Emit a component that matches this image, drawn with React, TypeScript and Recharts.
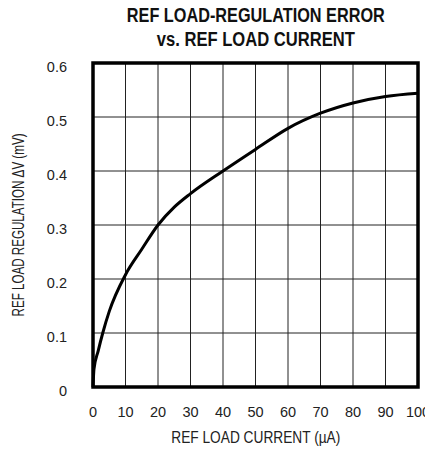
import React from 'react';
import { LineChart, Line, XAxis, YAxis, CartesianGrid, ReferenceArea } from 'recharts';

const currentUA = [0, 0.3, 1.6, 3, 5, 10, 15, 20, 25, 30, 40, 50, 60, 70, 80, 90, 100];
const regulationMV = [0, 0.033, 0.067, 0.1, 0.14, 0.208, 0.255, 0.3, 0.333, 0.358, 0.4, 0.44, 0.479, 0.507, 0.526, 0.538, 0.544];
const xTicks = [0, 10, 20, 30, 40, 50, 60, 70, 80, 90, 100];
const yTicks = [0, 0.1, 0.2, 0.3, 0.4, 0.5, 0.6];
const yTickLabels = ['0', '0.1', '0.2', '0.3', '0.4', '0.5', '0.6'];
const titleLines = ['REF LOAD-REGULATION ERROR', 'vs. REF LOAD CURRENT'];
const xAxisTitle = 'REF LOAD CURRENT (µA)';
const yAxisTitle = 'REF LOAD REGULATION ΔV (mV)';

const data = currentUA.map((x, i) => ({ x, y: regulationMV[i] }));

const FONT = '"Liberation Sans", Arial, sans-serif';

const XTick = (props: any) => {
  const { x, y, payload } = props;
  return (
    <text x={x} y={y + 17} textAnchor="middle" dominantBaseline="central" fontFamily={FONT} fontSize={14.5} fill="#222">
      {payload.value}
    </text>
  );
};

const YTick = (props: any) => {
  const { x, y, payload } = props;
  const idx = yTicks.indexOf(payload.value);
  return (
    <text x={x - 18} y={y + 3.5} textAnchor="end" dominantBaseline="central" fontFamily={FONT} fontSize={14.5} fill="#222">
      {idx >= 0 ? yTickLabels[idx] : payload.value}
    </text>
  );
};

export default function App() {
  return (
    <div style={{ position: 'absolute', left: 0, top: 0, width: 425, height: 453, background: '#fff' }}>
      <LineChart width={425} height={453} data={data} margin={{ top: 63, right: 7, bottom: 0, left: 0 }}>
        <CartesianGrid stroke="#222" strokeWidth={1} />
        <XAxis
          dataKey="x"
          type="number"
          domain={[0, 100]}
          ticks={xTicks}
          tick={<XTick />}
          tickLine={false}
          axisLine={false}
          height={66}
          interval={0}
        />
        <YAxis
          type="number"
          domain={[0, 0.6]}
          ticks={yTicks}
          tick={<YTick />}
          tickLine={false}
          axisLine={false}
          width={93}
          interval={0}
        />
        <Line
          type="monotone"
          dataKey="y"
          stroke="#000"
          strokeWidth={3}
          dot={false}
          isAnimationActive={false}
        />
        <ReferenceArea x1={0} x2={100} y1={0} y2={0.6} fill="none" stroke="#000" strokeWidth={3.5} ifOverflow="visible" />
      </LineChart>
      <svg width={425} height={453} style={{ position: 'absolute', left: 0, top: 0, pointerEvents: 'none' }}>
        <text x={255.8} y={14.8} textAnchor="middle" dominantBaseline="central" fontFamily={FONT} fontWeight="bold" fontSize={20} fill="#111" textLength={258} lengthAdjust="spacingAndGlyphs">
          {titleLines[0]}
        </text>
        <text x={255.8} y={38.5} textAnchor="middle" dominantBaseline="central" fontFamily={FONT} fontWeight="bold" fontSize={20} fill="#111" textLength={198} lengthAdjust="spacingAndGlyphs">
          {titleLines[1]}
        </text>
        <text x={255.8} y={437.5} textAnchor="middle" dominantBaseline="central" fontFamily={FONT} fontSize={16} fill="#222" textLength={169} lengthAdjust="spacingAndGlyphs">
          {xAxisTitle}
        </text>
        <text x={18} y={225} transform="rotate(-90 18 225)" textAnchor="middle" dominantBaseline="central" fontFamily={FONT} fontSize={16} fill="#222" textLength={183} lengthAdjust="spacingAndGlyphs">
          {yAxisTitle}
        </text>
      </svg>
    </div>
  );
}
